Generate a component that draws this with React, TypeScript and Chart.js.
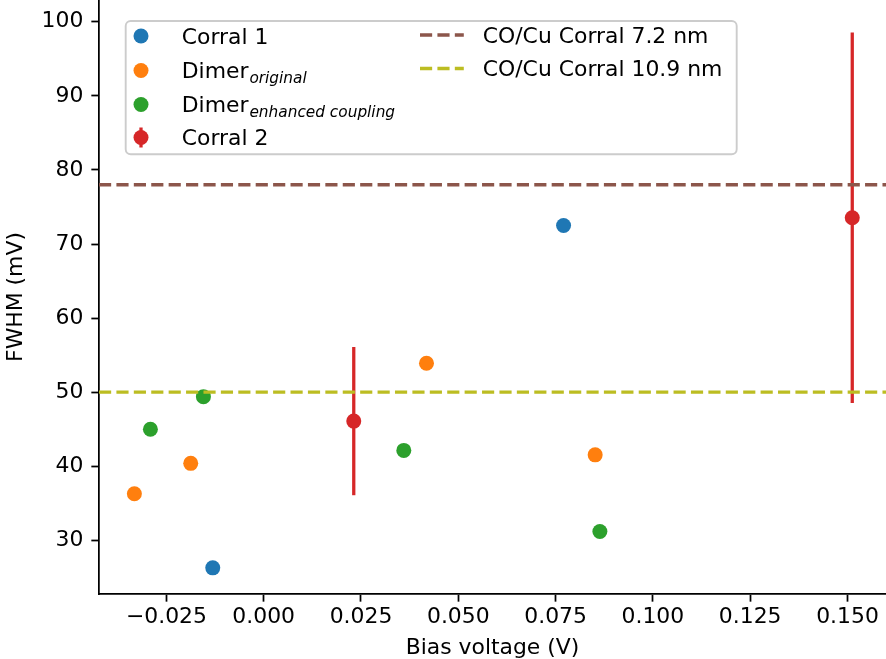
import React, { useEffect, useRef } from "react";
import { Chart, registerables } from "chart.js";

Chart.register(...registerables);

// ---------- data ----------
const corral1X = [0.07705, -0.01309];
const corral1Y = [72.5, 26.3];

const dimerOrigX = [-0.03323, -0.01875, 0.04183, 0.08517];
const dimerOrigY = [36.3, 40.4, 53.9, 41.55];

const dimerEnhX = [-0.02911, -0.01549, 0.036, 0.08638];
const dimerEnhY = [45.0, 49.4, 42.15, 31.2];

const corral2X = [0.02314, 0.15123];
const corral2Y = [46.1, 73.55];
const corral2Err = [10, 25];

const refLineLabels = ["CO/Cu Corral 7.2 nm", "CO/Cu Corral 10.9 nm"];
const refLineValues = [78, 50];

const seriesNames = ["Corral 1", "Dimer", "Dimer", "Corral 2"];
const seriesSubscripts = ["", "original", "enhanced coupling", ""];

const xTickValues = [-0.025, 0, 0.025, 0.05, 0.075, 0.1, 0.125, 0.15];
const xTickLabels = ["−0.025", "0.000", "0.025", "0.050", "0.075", "0.100", "0.125", "0.150"];
const yTickValues = [30, 40, 50, 60, 70, 80, 90, 100];
const yTickLabels = ["30", "40", "50", "60", "70", "80", "90", "100"];

const xRange = [-0.04232, 0.1599];
const yRange = [22.77, 102.93];

const xTitle = "Bias voltage (V)";
const yTitle = "FWHM (mV)";

// ---------- style ----------
const FONT = "'DejaVu Sans', sans-serif";
const FS = 21.9;
const PT = 2.19;
const C_BLUE = "#1f77b4";
const C_ORANGE = "#ff7f0e";
const C_GREEN = "#2ca02c";
const C_RED = "#d62728";
const C_BROWN = "#8c564b";
const C_OLIVE = "#bcbd22";
const seriesColors = [C_BLUE, C_ORANGE, C_GREEN, C_RED];
const lineColors = [C_BROWN, C_OLIVE];
const POINT_R = 7.5;
const LW = 1.5 * PT;
const DASH = [3.7 * LW, 1.6 * LW];
const SPINE = 0.8 * PT;
const TICK_LEN = 3.5 * PT;

const zip = (xs: number[], ys: number[]) => xs.map((x, i) => ({ x, y: ys[i] }));

const errorBarPlugin = {
  id: "errorBars",
  beforeDatasetsDraw(chart: any) {
    const { ctx, scales } = chart;
    const xs = scales.x;
    const ys = scales.y;
    ctx.save();
    const a = chart.chartArea;
    ctx.beginPath();
    ctx.rect(a.left, a.top, a.right - a.left, a.bottom - a.top);
    ctx.clip();
    ctx.strokeStyle = C_RED;
    ctx.lineWidth = LW;
    corral2X.forEach((x, i) => {
      const px = xs.getPixelForValue(x);
      const y1 = ys.getPixelForValue(corral2Y[i] - corral2Err[i]);
      const y2 = ys.getPixelForValue(corral2Y[i] + corral2Err[i]);
      ctx.beginPath();
      ctx.moveTo(px, y1);
      ctx.lineTo(px, y2);
      ctx.stroke();
    });
    ctx.restore();
  },
};

const legendPlugin = {
  id: "customLegend",
  afterDraw(chart: any) {
    const ctx = chart.ctx as CanvasRenderingContext2D;
    ctx.save();
    const bx = 125.7, by = 21, bw = 611, bh = 133.3;
    ctx.beginPath();
    (ctx as any).roundRect(bx, by, bw, bh, 5);
    ctx.fillStyle = "rgba(255,255,255,0.8)";
    ctx.fill();
    ctx.lineWidth = 1.9;
    ctx.strokeStyle = "#cccccc";
    ctx.stroke();

    const rows1 = [36, 70.5, 104.5, 137.5];
    const mx = 141;
    const tx = 181.7;
    ctx.textBaseline = "alphabetic";
    ctx.textAlign = "left";
    seriesNames.forEach((name, i) => {
      const y = rows1[i];
      ctx.fillStyle = seriesColors[i];
      if (i === 3) {
        ctx.strokeStyle = C_RED;
        ctx.lineWidth = LW;
        ctx.beginPath();
        ctx.moveTo(mx, y - 10);
        ctx.lineTo(mx, y + 10);
        ctx.stroke();
      }
      ctx.beginPath();
      ctx.arc(mx, y, POINT_R, 0, Math.PI * 2);
      ctx.fill();
      ctx.fillStyle = "#000";
      ctx.font = `${FS}px ${FONT}`;
      const base = y + 7.5;
      ctx.fillText(name, tx, base);
      const sub = seriesSubscripts[i];
      if (sub) {
        const w = ctx.measureText(name).width;
        ctx.font = `italic ${FS * 0.7}px ${FONT}`;
        ctx.fillText(sub, tx + w + 1, base + 4.5);
      }
    });

    const rows2 = [35, 68.5];
    refLineLabels.forEach((label, i) => {
      const y = rows2[i];
      ctx.strokeStyle = lineColors[i];
      ctx.lineWidth = LW;
      ctx.setLineDash(DASH);
      ctx.beginPath();
      ctx.moveTo(420, y);
      ctx.lineTo(420 + 2 * FS, y);
      ctx.stroke();
      ctx.setLineDash([]);
      ctx.fillStyle = "#000";
      ctx.font = `${FS}px ${FONT}`;
      ctx.fillText(label, 482.7, y + 7.5);
    });
    ctx.restore();
  },
};

export default function App() {
  const ref = useRef<HTMLCanvasElement | null>(null);
  useEffect(() => {
    if (!ref.current) return;
    const font = { family: FONT, size: FS };
    const scatterDs = (label: string, xs: number[], ys: number[], color: string) => ({
      type: "scatter" as const,
      label,
      data: zip(xs, ys),
      backgroundColor: color,
      borderColor: color,
      pointRadius: POINT_R,
      pointBorderWidth: 0,
      pointHoverRadius: POINT_R,
      order: 5,
    });
    const lineDs = refLineValues.map((v, i) => ({
      type: "scatter" as const,
      label: refLineLabels[i],
      data: [
        { x: xRange[0], y: v },
        { x: xRange[1], y: v },
      ],
      showLine: true,
      borderColor: lineColors[i],
      backgroundColor: lineColors[i],
      borderWidth: LW,
      borderDash: DASH,
      pointRadius: 0,
      order: 1,
    }));
    const chart = new Chart(ref.current, {
      type: "scatter",
      data: {
        datasets: [
          scatterDs(seriesNames[0], corral1X, corral1Y, C_BLUE),
          scatterDs(seriesNames[1] + seriesSubscripts[1], dimerOrigX, dimerOrigY, C_ORANGE),
          scatterDs(seriesNames[2] + seriesSubscripts[2], dimerEnhX, dimerEnhY, C_GREEN),
          scatterDs(seriesNames[3], corral2X, corral2Y, C_RED),
          ...lineDs,
        ] as any,
      },
      options: {
        responsive: false,
        animation: false,
        devicePixelRatio: 1,
        layout: { padding: 0, autoPadding: false },
        plugins: { legend: { display: false }, tooltip: { enabled: false } },
        scales: {
          x: {
            type: "linear",
            min: xRange[0],
            max: xRange[1],
            afterBuildTicks: (s: any) => {
              s.ticks = xTickValues.map((v) => ({ value: v }));
            },
            afterFit: (s: any) => {
              s.height = 65;
              s.paddingLeft = 0;
              s.paddingRight = 0;
            },
            ticks: {
              autoSkip: false,
              maxRotation: 0,
              minRotation: 0,
              padding: 2.5,
              color: "#000",
              font,
              callback: (v: any) => {
                const i = xTickValues.findIndex((t) => Math.abs(t - v) < 1e-9);
                return i >= 0 ? xTickLabels[i] : "";
              },
            },
            grid: {
              display: true,
              drawOnChartArea: false,
              drawTicks: true,
              tickLength: TICK_LEN,
              tickWidth: SPINE,
              tickColor: "#000",
            },
            border: { display: true, color: "#000", width: SPINE },
            title: {
              display: true,
              text: xTitle,
              color: "#000",
              font,
              padding: { top: 0, bottom: -2 },
            },
          },
          y: {
            type: "linear",
            min: yRange[0],
            max: yRange[1],
            afterBuildTicks: (s: any) => {
              s.ticks = yTickValues.map((v) => ({ value: v }));
            },
            afterFit: (s: any) => {
              s.width = 99;
              s.paddingTop = 0;
              s.paddingBottom = 0;
            },
            ticks: {
              autoSkip: false,
              padding: 8,
              color: "#000",
              font,
              callback: (v: any) => {
                const i = yTickValues.findIndex((t) => Math.abs(t - v) < 1e-9);
                return i >= 0 ? yTickLabels[i] : "";
              },
            },
            grid: {
              display: true,
              drawOnChartArea: false,
              drawTicks: true,
              tickLength: TICK_LEN,
              tickWidth: SPINE,
              tickColor: "#000",
            },
            border: { display: true, color: "#000", width: SPINE },
            title: {
              display: true,
              text: yTitle,
              color: "#000",
              font,
              padding: { top: 3, bottom: 0 },
            },
          },
        },
      } as any,
      plugins: [errorBarPlugin, legendPlugin],
    });
    return () => chart.destroy();
  }, []);
  return (
    <div style={{ position: "absolute", left: 0, top: 0, width: 886, height: 659, background: "#fff" }}>
      <canvas ref={ref} width={886} height={659} style={{ display: "block" }} />
    </div>
  );
}
